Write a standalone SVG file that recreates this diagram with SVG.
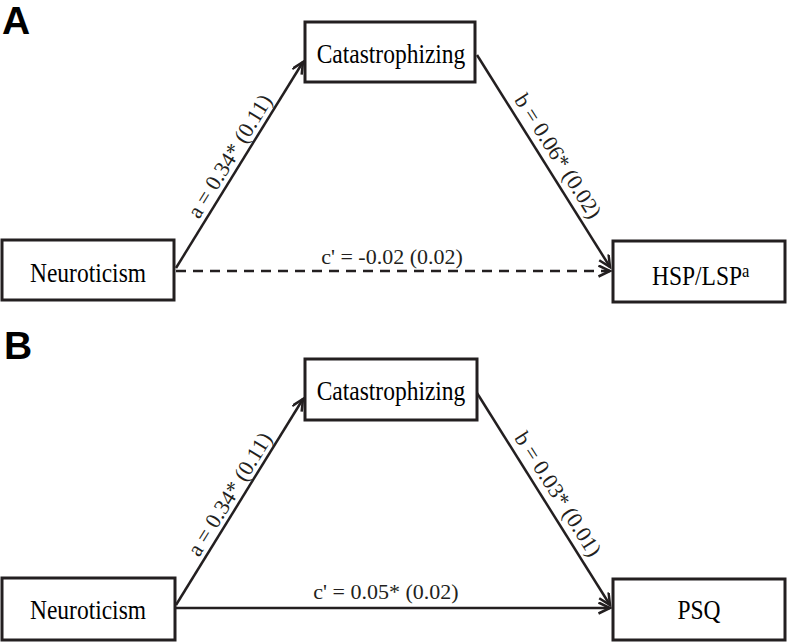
<svg xmlns="http://www.w3.org/2000/svg" width="787" height="643" viewBox="0 0 787 643">
  <style>
    .box { fill: #ffffff; stroke: #231f20; stroke-width: 3; }
    .bt { font-family: "Liberation Serif", "Times New Roman", serif; font-size: 27px; fill: #000000; }
    .lbl { font-family: "Liberation Serif", "Times New Roman", serif; font-size: 22px; fill: #231f20; }
    .panel { font-family: "Liberation Sans", Arial, sans-serif; font-size: 39px; font-weight: bold; fill: #000000; }
    .edge { stroke: #231f20; stroke-width: 2.5; fill: none; }
    .dash { stroke-dasharray: 10 7; }
  </style>
  <defs>
    <marker id="arr" markerUnits="userSpaceOnUse" markerWidth="16" markerHeight="16" refX="12" refY="6" orient="auto" viewBox="0 0 16 16">
      <path d="M0.5,0.5 L12,6 L0.5,11.5" fill="none" stroke="#231f20" stroke-width="2.5"/>
    </marker>
  </defs>
  <rect width="787" height="643" fill="#ffffff"/>

  <text class="panel" x="2" y="34">A</text>
  <text class="panel" x="4" y="359">B</text>

  <g id="connectors">
    <!-- Panel A -->
    <line class="edge" x1="176" y1="268" x2="303" y2="62" marker-end="url(#arr)"/>
    <line class="edge" x1="477" y1="55" x2="610" y2="267" marker-end="url(#arr)"/>
    <line class="edge dash" x1="176" y1="271" x2="610" y2="271" marker-end="url(#arr)"/>
    <!-- Panel B -->
    <line class="edge" x1="176" y1="605" x2="303" y2="399" marker-end="url(#arr)"/>
    <line class="edge" x1="477" y1="393" x2="610" y2="605" marker-end="url(#arr)"/>
    <line class="edge" x1="176" y1="608" x2="610" y2="608" marker-end="url(#arr)"/>

    <text class="lbl" text-anchor="middle" transform="translate(236,160) rotate(-58.3)">a = 0.34* (0.11)</text>
    <text class="lbl" text-anchor="middle" transform="translate(552,160) rotate(57.6)">b = 0.06* (0.02)</text>
    <text class="lbl" text-anchor="middle" x="392" y="264">c' = -0.02 (0.02)</text>

    <text class="lbl" text-anchor="middle" transform="translate(236,498) rotate(-58.3)">a = 0.34* (0.11)</text>
    <text class="lbl" text-anchor="middle" transform="translate(552,498) rotate(57.6)">b = 0.03* (0.01)</text>
    <text class="lbl" text-anchor="middle" x="386" y="599">c' = 0.05* (0.02)</text>
  </g>

  <g id="A-catastrophizing">
    <rect class="box" x="305" y="22" width="170" height="60"/>
    <text class="bt" text-anchor="middle" transform="translate(391,63) scale(0.87,1)">Catastrophizing</text>
  </g>
  <g id="A-neuroticism">
    <rect class="box" x="2" y="240" width="172" height="60"/>
    <text class="bt" text-anchor="middle" transform="translate(88,282) scale(0.87,1)">Neuroticism</text>
  </g>
  <g id="A-hsp-lsp">
    <rect class="box" x="613" y="241" width="172" height="61"/>
    <text class="bt" transform="translate(652,285) scale(0.87,1)">HSP/LSP<tspan font-size="19" dy="-8">a</tspan></text>
  </g>

  <g id="B-catastrophizing">
    <rect class="box" x="305" y="359" width="172" height="61"/>
    <text class="bt" text-anchor="middle" transform="translate(391,400) scale(0.87,1)">Catastrophizing</text>
  </g>
  <g id="B-neuroticism">
    <rect class="box" x="2" y="578" width="173" height="62"/>
    <text class="bt" text-anchor="middle" transform="translate(88,619) scale(0.87,1)">Neuroticism</text>
  </g>
  <g id="B-psq">
    <rect class="box" x="613" y="579" width="172" height="61"/>
    <text class="bt" text-anchor="middle" transform="translate(699,619) scale(0.87,1)">PSQ</text>
  </g>
</svg>
